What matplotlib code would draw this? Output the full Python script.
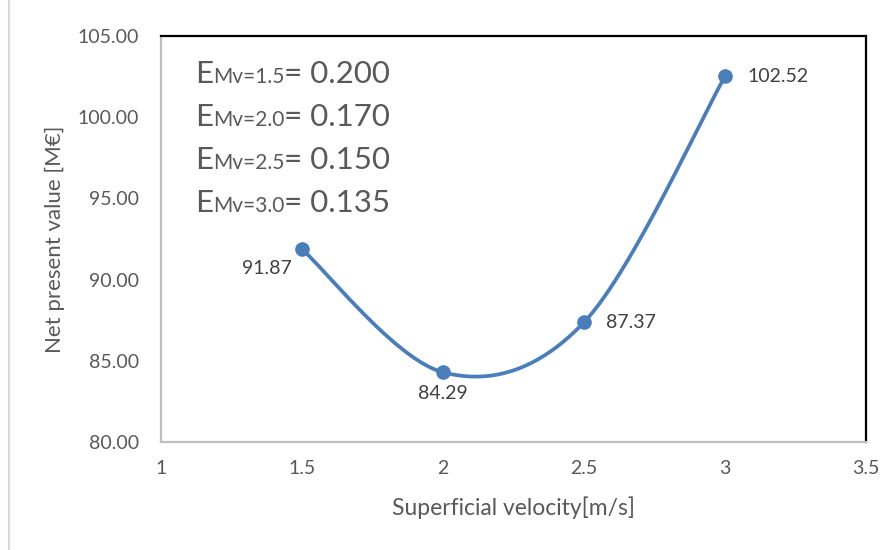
import numpy as np
import matplotlib.pyplot as plt
from matplotlib.lines import Line2D

velocity = [1.5, 2.0, 2.5, 3.0]
npv = [91.87, 84.29, 87.37, 102.52]
subscripts = ['Mv=1.5', 'Mv=2.0', 'Mv=2.5', 'Mv=3.0']
e_values = ['0.200', '0.170', '0.150', '0.135']

plt.rcParams['font.family'] = ['Lato', 'DejaVu Sans']
grey = '#595959'
blue = '#4a7ebb'


def smooth(x, y, n=60):
    # Catmull-Rom style bezier through the points (Excel "smoothed line")
    x = np.asarray(x, float)
    y = np.asarray(y, float)
    px = np.r_[x[0], x, x[-1]]
    py = np.r_[y[0], y, y[-1]]
    xs, ys = [], []
    t = np.linspace(0, 1, n)
    for i in range(1, len(x)):
        p0 = np.array([px[i], py[i]])
        p3 = np.array([px[i + 1], py[i + 1]])
        c1 = p0 + (p3 - np.array([px[i - 1], py[i - 1]])) / 6
        c2 = p3 - (np.array([px[i + 2], py[i + 2]]) - p0) / 6
        b = ((1 - t) ** 3)[:, None] * p0 + (3 * (1 - t) ** 2 * t)[:, None] * c1 \
            + (3 * (1 - t) * t ** 2)[:, None] * c2 + (t ** 3)[:, None] * p3
        xs.extend(b[:, 0])
        ys.extend(b[:, 1])
    return xs, ys


fig = plt.figure(figsize=(8.93, 5.5), dpi=100)
ax = fig.add_axes([0.1803, 0.1964, 0.7895, 0.7382])

sx, sy = smooth(velocity, npv)
ax.plot(sx, sy, color=blue, lw=2.7, solid_capstyle='round', zorder=2)
ax.plot(velocity, npv, 'o', color=blue, ms=9.5, zorder=3)

ax.set_xlim(1, 3.5)
ax.set_ylim(80, 105)
ax.set_xticks(np.arange(1, 3.51, 0.5))
ax.set_xticklabels(['1', '1.5', '2', '2.5', '3', '3.5'])
ax.set_yticks(np.arange(80, 105.1, 5))
ax.set_yticklabels([f'{v:.2f}' for v in np.arange(80, 105.1, 5)])
ax.tick_params(axis='both', length=0, labelsize=14, labelcolor=grey)
ax.tick_params(axis='y', pad=16)
ax.tick_params(axis='x', pad=13)

for side in ['top', 'right']:
    ax.spines[side].set_color('black')
    ax.spines[side].set_linewidth(1.6)
for side in ['left', 'bottom']:
    ax.spines[side].set_color('#bfbfbf')
    ax.spines[side].set_linewidth(1.6)

ax.set_xlabel('Superficial velocity[m/s]', fontsize=16.5, color=grey, labelpad=14)
ax.set_ylabel('Net present value [M€]', fontsize=16, color=grey, labelpad=9)

# data labels
offsets = [(-10, -19, 'right'), (0, -21, 'center'), (22, 0, 'left'), (22, 0, 'left')]
for xv, yv, (dx, dy, ha) in zip(velocity, npv, offsets):
    ax.annotate(f'{yv:.2f}', (xv, yv), xytext=(dx, dy), textcoords='offset pixels',
                ha=ha, va='center', fontsize=14, color='#404040')

# efficiency annotations
baselines = [0.884, 0.778, 0.672, 0.567]
for yb, sub, val in zip(baselines, subscripts, e_values):
    t1 = ax.text(0.048, yb, 'E', transform=ax.transAxes, fontsize=22.5,
                 color=grey, va='baseline', ha='left')
    t2 = ax.annotate(sub, xy=(1, yb), xycoords=(t1, ax.transAxes),
                     fontsize=15, color=grey, va='baseline', ha='left')
    ax.annotate('= ' + val, xy=(1, yb), xycoords=(t2, ax.transAxes),
                fontsize=22.5, color=grey, va='baseline', ha='left')

fig.add_artist(Line2D([8.5 / 893, 8.5 / 893], [0, 1], color='#d9d9d9', lw=1.5))

fig.savefig('out.png', dpi=100)
